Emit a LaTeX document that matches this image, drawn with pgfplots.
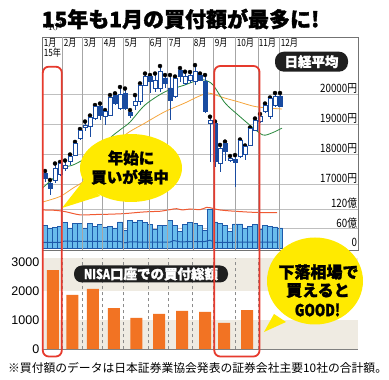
\documentclass[border=0pt]{standalone}
\usepackage{fontspec}
\setmainfont{Noto Sans CJK JP}
\newfontfamily\heavyjp{Noto Sans CJK JP}[BoldFeatures={FakeBold=1.6}]
\newfontfamily\arial{Liberation Sans}
\usepackage{pgfplots}
\pgfplotsset{compat=1.18}
\usepackage{pgfplotstable}
\definecolor{dblue}{RGB}{25,75,160}
\definecolor{vfill}{RGB}{105,188,236}
\definecolor{vedge}{RGB}{30,90,170}
\definecolor{vred}{RGB}{240,90,50}
\definecolor{magreen}{RGB}{40,135,60}
\definecolor{maorange}{RGB}{245,165,60}
\definecolor{nisa}{RGB}{242,115,35}
\definecolor{yel}{RGB}{255,234,0}
\definecolor{rrect}{RGB}{230,58,45}
\definecolor{beige}{RGB}{239,235,226}
\pgfplotstableread{
i O H L C
0 17380 17450 17100 17200
1 17050 17150 16650 16880
2 17150 17700 17050 17550
3 17350 17750 17300 17700
4 17550 17800 17450 17650
5 17770 18000 17650 17930
6 17980 18420 17950 18380
7 18550 18850 18500 18810
8 18890 19100 18780 18980
9 18930 19300 18600 19250
10 19210 19650 19150 19590
11 19590 19700 19150 19320
12 19260 19480 19000 19430
13 19320 19980 19280 19920
14 19980 20040 19650 19720
15 19550 20250 19500 20020
16 20050 20200 19500 19550
17 19400 19480 19220 19300
18 19650 19980 19480 19760
19 19760 20370 19650 20320
20 20320 20700 20300 20600
21 20590 20650 20050 20430
22 20220 20700 20100 20480
23 20220 20950 20100 20760
24 20550 20650 20220 20380
25 20220 20650 19150 19820
26 19930 20600 19900 20550
27 20820 20880 20430 20590
28 20370 20760 20320 20590
29 20480 20750 20400 20650
30 20430 20980 20320 20760
31 20650 20700 20450 20480
32 20430 20650 19380 19430
33 19050 19260 17760 19150
34 19040 19100 17600 17760
35 17710 18320 17430 18210
36 18370 18430 17800 18090
37 17820 17950 17750 17870
38 17850 17980 16930 17740
39 17930 18500 17900 18480
40 17990 18300 17830 18260
41 18320 18900 18300 18870
42 18820 19200 18800 19150
43 19100 19350 19050 19270
44 19430 19700 19400 19650
45 19260 19900 19200 19880
46 19650 20050 19600 19930
47 19930 20050 19580 19600
}\candles
\pgfplotstableread{
i V
0 70
1 62
2 64
3 66
4 78
5 62
6 76
7 75
8 62
9 75
10 67
11 73
12 65
13 67
14 62
15 80
16 55
17 84
18 80
19 84
20 78
21 72
22 58
23 69
24 69
25 84
26 70
27 50
28 72
29 78
30 76
31 70
32 55
33 120
34 80
35 75
36 69
37 50
38 74
39 74
40 62
41 66
42 72
43 57
44 70
45 66
46 65
47 62
}\volume
\pgfplotsset{toppanel/.style={at={(42pt,130pt)}, anchor=south west, width=316pt, height=213pt, scale only axis, xmin=-0.6, xmax=62.6}}
\newcommand{\cond}[1]{\scalebox{0.82}[1]{#1}}
\begin{document}
\begin{tikzpicture}[x=1pt,y=1pt]
\path[use as bounding box] (0,0) rectangle (389,380);
% horizontal grid of the top panel
\begin{axis}[toppanel, ymin=14817, ymax=21917, xtick=\empty, ytick={15533,16183,17000,18000,19000,20000}, yticklabels={}, major tick length=0, ymajorgrids, grid style={black!25, line width=0.5pt}, axis line style={black!55, line width=0.6pt}]
\end{axis}
% volume
\begin{axis}[toppanel, ymin=-6.15, ymax=649.2, hide axis]
\addplot[ybar, bar width=5pt, fill=vfill, draw=vedge, line width=0.5pt] table[x=i, y=V] \volume;
\addplot[vred, line width=1pt, smooth] coordinates {(-0.4,117)(2,116)(4,112)(7,102)(10,103)(13,104)(16,106)(19,110)(21,112)(23,113)(25,118)(26.3,121)(27.5,117)(29,120)(31,118)(32.3,125)(33,124)(35,117)(39,112)(43,109)(46.4,109)};
\addplot[vedge, line width=1pt] coordinates {(-0.4,17)(3,17)(3.8,21)(10,20)(15,20)(16,16)(17,19)(20,18)(25,18)(25.7,23)(27,19)(32,20)(33,24)(34,17)(40,18)(46.4,18)};
\end{axis}
% vertical month lines
\begin{axis}[toppanel, ymin=0, ymax=1, xtick={3.4,7.4,11.4,15.6,20.8,24.4,29.6,33.6,38,42.6,46.8}, xticklabels={}, ytick=\empty, major tick length=0, xmajorgrids, grid style={black!35, line width=0.5pt}, axis line style={draw=none}]
\end{axis}
% moving averages and wicks
\begin{axis}[toppanel, ymin=14817, ymax=21917, hide axis]
\addplot[maorange, line width=0.8pt, smooth] coordinates {(-0.4,16420)(3,16600)(5.6,16880)(7.6,17090)(10,17450)(13,18050)(16,18650)(20,19050)(24,19430)(28,19720)(30.6,19930)(32.6,20050)(34,19990)(36,19880)(38.6,19760)(42,19600)(45.4,19540)(47.4,19517)};
\addplot[magreen, line width=0.8pt, smooth] coordinates {(-0.4,16900)(2,17260)(3.6,17550)(5.6,17650)(7.6,17820)(10.4,18080)(13,18550)(15,18820)(17,19080)(20,19650)(24,20090)(28,20320)(30.6,20480)(32,20480)(33.6,20320)(36,19720)(38.6,19320)(41.4,18920)(43.6,18650)(45.4,18720)(47.4,18880)};
\addplot[only marks, mark=none, error bars/.cd, y dir=minus, y explicit, error mark=none, error bar style={draw=dblue, solid, line width=0.7pt}] table[x=i, y=H, y error minus expr={\thisrow{H}-\thisrow{L}}] \candles;
\end{axis}
% candle bodies
\begin{axis}[toppanel, ymin=14817, ymax=21917, hide axis, ybar stacked, bar width=3.8pt]
\addplot[draw=none, fill=none] table[x=i, y expr={min(\thisrow{O},\thisrow{C})}] \candles;
\addplot[draw=dblue, fill=white, line width=0.7pt] table[x=i, y expr={max(\thisrow{C}-\thisrow{O},0)}] \candles;
\addplot[draw=dblue, fill=dblue, line width=0.7pt] table[x=i, y expr={max(\thisrow{O}-\thisrow{C},0)}] \candles;
\end{axis}
% bottom panel
\begin{axis}[at={(42pt,30.5pt)}, anchor=south west, width=316pt, height=91.5pt, scale only axis, xmin=42, xmax=358, ymin=0, ymax=3155, axis on top, axis lines*=left, y axis line style={draw=none}, x axis line style={black!50, line width=0.8pt}, xtick={62,82,102,123,148,168,192,213,235,258}, xticklabels={}, ytick={0,1000,2000,3000}, major tick length=0, xmajorgrids, grid style={black!45, dashed, line width=0.5pt}, yticklabel style={font=\arial\fontsize{12.5}{13}\selectfont, inner sep=1pt, xshift=-1.5pt, /pgf/number format/1000 sep={}}, /pgf/number format/assume math mode=true]
\addplot[fill=beige, draw=none] coordinates {(42,0)(358,0)(358,1000)(42,1000)} -- cycle;
\addplot[fill=beige, draw=none] coordinates {(42,2000)(358,2000)(358,3155)(42,3155)} -- cycle;
\addplot[ybar, bar width=12pt, fill=nisa, draw=none] coordinates {(53,2740)(72.5,1880)(93,2090)(114,1430)(136.5,1090)(159,1230)(182,1330)(205,1300)(224,920)(247,1360)};
\end{axis}
% labels of the top panel
\foreach \x/\t in {43/1月,63/2月,83/3月,103/4月,124/5月,149/6月,168/7月,193/8月,214/9月,236/10月,258/11月,280/12月}
  \node[anchor=base west, inner sep=0pt, font=\fontsize{10}{11}\selectfont] at (\x+0.6,333) {\cond{\t}};
\node[anchor=base west, inner sep=0pt, font=\fontsize{10}{11}\selectfont] at (43.6,323.5) {\cond{15年}};
\foreach \y/\t in {286/20000円,256/19000円,226/18000円,196/17000円,171/120億,151.5/60億,132/0}
  \node[anchor=base east, inner sep=0pt, font=\fontsize{11.5}{12}\selectfont] at (357.3,\y+1) {\scalebox{0.85}[1]{\t}};
\node[fill=black!88, text=white, rounded corners=9pt, minimum width=73pt, minimum height=20pt, inner sep=0pt, font=\heavyjp\bfseries\fontsize{13.5}{14}\selectfont] at (311.5,318.3) {日経平均};
\node[fill=black!88, text=white, rounded corners=8pt, minimum width=154pt, minimum height=17pt, inner sep=0pt, font=\heavyjp\bfseries\fontsize{13.5}{14}\selectfont] at (151,106) {\scalebox{0.8}[1]{NISA}口座での買付総額};
% bubbles
\fill[yel] (131,212) ellipse [x radius=51, y radius=34];
\fill[yel] (84,200) -- (62,172) -- (100,184) -- cycle;
\node[font=\heavyjp\bfseries\fontsize{15.5}{17}\selectfont] at (131,222) {年始に};
\node[font=\heavyjp\bfseries\fontsize{15.5}{17}\selectfont] at (130,203) {買いが集中};
\fill[yel] (315,99) ellipse [x radius=48, y radius=43.5];
\fill[yel] (274,66) -- (264,48) -- (286,58) -- cycle;
\node[font=\heavyjp\bfseries\fontsize{16}{17}\selectfont] at (318.5,108) {下落相場で};
\node[font=\heavyjp\bfseries\fontsize{16}{17}\selectfont] at (318,89.5) {買えると};
\node[font=\heavyjp\bfseries\fontsize{16.5}{17}\selectfont] at (317.5,70) {\scalebox{0.8}[1]{GOOD!}};
% red frames
\draw[rrect, line width=1.8pt, rounded corners=6pt] (42.8,23.5) rectangle (61.8,313.3);
\draw[rrect, line width=1.8pt, rounded corners=6pt] (214.3,23.5) rectangle (259.5,314);
% title and note
\node[anchor=west, inner sep=0pt, font=\heavyjp\bfseries\fontsize{21}{22}\selectfont] at (41.5,361) {15年も1月の買付額が最多に!};
\node[anchor=west, inner sep=0pt, font=\fontsize{11.8}{13}\selectfont] at (8,12) {※買付額のデータは日本証券業協会発表の証券会社主要10社の合計額。};
\end{tikzpicture}
\end{document}
